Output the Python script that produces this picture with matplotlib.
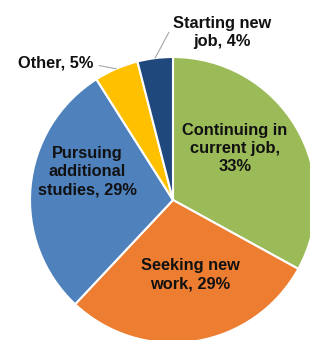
import matplotlib.pyplot as plt
import numpy as np

# Data
labels = ['Continuing in\ncurrent job,\n33%', 'Seeking new\nwork, 29%',
          'Pursuing\nadditional\nstudies, 29%', 'Other, 5%', 'Starting new\njob, 4%']
values = [33, 29, 29, 5, 4]
colors = ['#9BBB59', '#ED7D31', '#4F81BD', '#FFC000', '#1F497D']

# label positions (axes data coords, pie radius = 1)
label_pos = [(0.434, 0.357), (0.119, -0.524), (-0.601, 0.196), (-0.818, 0.958), (0.343, 1.168)]

plt.rcParams['font.family'] = ['Liberation Sans', 'DejaVu Sans']

fig = plt.figure(figsize=(3.1, 3.4), dpi=100)
ax = fig.add_axes([30 / 310, -3 / 340, 286 / 310, 286 / 340])

wedges, _ = ax.pie(values, colors=colors, startangle=90, counterclock=False,
                   radius=1, wedgeprops=dict(edgecolor='white', linewidth=1.5))
ax.set_xlim(-1, 1)
ax.set_ylim(-1, 1)
ax.set_aspect('equal')
ax.axis('off')

fs = 11.8
ls = 1.25
for i, (w, lab, pos) in enumerate(zip(wedges, labels, label_pos)):
    if values[i] > 6:
        ax.text(pos[0], pos[1], lab, ha='center', va='center', fontsize=fs,
                fontweight='bold', color='#111111', linespacing=ls)
    else:
        mid = np.deg2rad((w.theta1 + w.theta2) / 2)
        tip = (np.cos(mid), np.sin(mid))
        rel = (1.0, 0.4) if pos[0] < 0 else (0.0, 0.75)
        ax.annotate(lab, xy=tip, xytext=pos, ha='center', va='center', fontsize=fs,
                    fontweight='bold', color='#111111', annotation_clip=False,
                    linespacing=ls,
                    arrowprops=dict(arrowstyle='-', color='#A6A6A6', lw=0.8,
                                    relpos=rel, shrinkA=2, shrinkB=0))

fig.savefig('out.png', dpi=100)
